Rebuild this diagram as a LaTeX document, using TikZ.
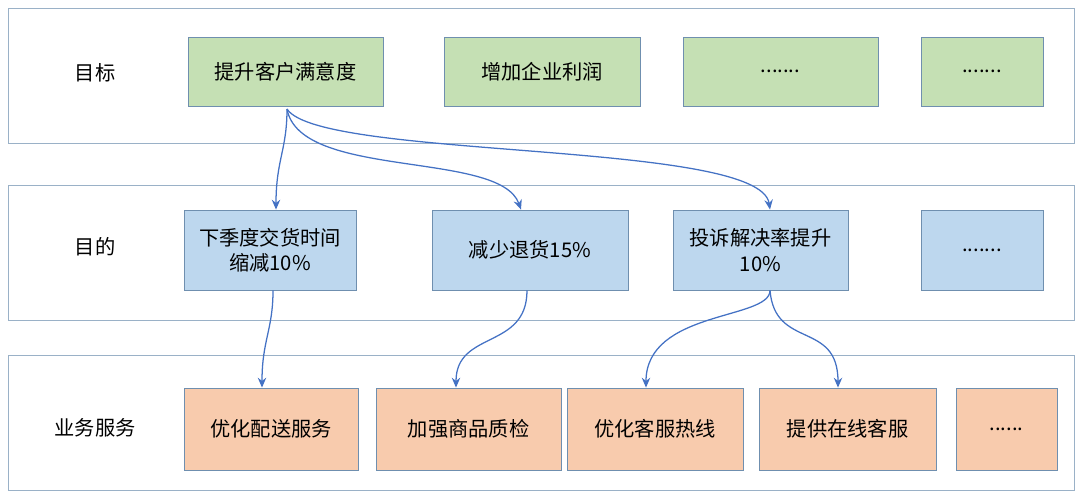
\documentclass[tikz,border=0pt]{standalone}
\usepackage{fontspec}
\setmainfont{Noto Sans CJK SC}
\usetikzlibrary{arrows.meta}
\usetikzlibrary{positioning}
\definecolor{goalfill}{HTML}{C5E0B4}
\definecolor{aimfill}{HTML}{BDD7EE}
\definecolor{svcfill}{HTML}{F8CBAD}
\definecolor{boxline}{HTML}{6F8FAF}
\definecolor{flow}{HTML}{4472C4}
\tikzstyle{band}=[draw=boxline!70,line width=0.6pt]
\tikzstyle{item}=[draw=boxline,line width=0.6pt,align=center,font=\Large,inner sep=2pt]
\tikzstyle{link}=[draw=flow,line width=0.9pt,-{Stealth[length=7pt,width=6pt]}]

\begin{document}
\begin{tikzpicture}[x=0.025cm,y=-0.025cm]
\useasboundingbox (0,0) rectangle (1080,494);
\draw [band] (8,8) rectangle (1074,143);
\draw [band] (8,185) rectangle (1074,320);
\draw [band] (8,355) rectangle (1074,490);
\node [font=\Large] (goal) at (95,73) {目标};
\node [font=\Large] (aim) at (95,247) {目的};
\node [font=\Large] (svc) at (95,428) {业务服务};

% 目标
\node [item,fill=goalfill,minimum width=195*0.025cm,minimum height=69*0.025cm] (g1) at (285.5,71.5) {提升客户满意度};
\node [item,fill=goalfill,minimum width=196*0.025cm,minimum height=69*0.025cm] (g2) at (542,71.5) {增加企业利润};
\node [item,fill=goalfill,minimum width=195*0.025cm,minimum height=69*0.025cm] (g3) at (780.5,71.5) {.......};
\node [item,fill=goalfill,minimum width=122*0.025cm,minimum height=69*0.025cm] (g4) at (982,71.5) {.......};

% 目的
\node [item,fill=aimfill,minimum width=172*0.025cm,minimum height=80*0.025cm] (a1) at (270,250) {下季度交货时间\\缩减10\%};
\node [item,fill=aimfill,minimum width=196*0.025cm,minimum height=80*0.025cm] (a2) at (530,250) {减少退货15\%};
\node [item,fill=aimfill,minimum width=175*0.025cm,minimum height=80*0.025cm] (a3) at (760.5,250) {投诉解决率提升\\10\%};
\node [item,fill=aimfill,minimum width=122*0.025cm,minimum height=80*0.025cm] (a4) at (982,250) {.......};

% 业务服务
\node [item,fill=svcfill,minimum width=174*0.025cm,minimum height=82*0.025cm] (s1) at (271,429) {优化配送服务};
\node [item,fill=svcfill,minimum width=185*0.025cm,minimum height=82*0.025cm] (s2) at (468.5,429) {加强商品质检};
\node [item,fill=svcfill,minimum width=176*0.025cm,minimum height=82*0.025cm] (s3) at (655,429) {优化客服热线};
\node [item,fill=svcfill,minimum width=177*0.025cm,minimum height=82*0.025cm] (s4) at (847.5,429) {提供在线客服};
\node [item,fill=svcfill,minimum width=101*0.025cm,minimum height=82*0.025cm] (s5) at (1006.5,429) {......};

\coordinate (gout) at (287,109);
\draw [link] (gout) .. controls (287,150) and (276,160) .. ([xshift=0.15cm]a1.north);
\draw [link] (gout) .. controls (300,180) and (500,150) .. ([xshift=-0.225cm]a2.north);
\draw [link] (gout) .. controls (320,160) and (760,140) .. ([xshift=0.2375cm]a3.north);
\draw [link] ([xshift=0.075cm]a1.south) .. controls (273,330) and (262,340) .. ([xshift=-0.225cm]s1.north);
\draw [link] ([xshift=-0.075cm]a2.south) .. controls (527,350) and (456,330) .. ([xshift=-0.3125cm]s2.north);
\draw [link] ([xshift=0.2375cm]a3.south) .. controls (770,320) and (646,310) .. ([xshift=-0.225cm]s3.north);
\draw [link] ([xshift=0.2375cm]a3.south) .. controls (775,350) and (838,320) .. ([xshift=-0.2375cm]s4.north);
\end{tikzpicture}
\end{document}
